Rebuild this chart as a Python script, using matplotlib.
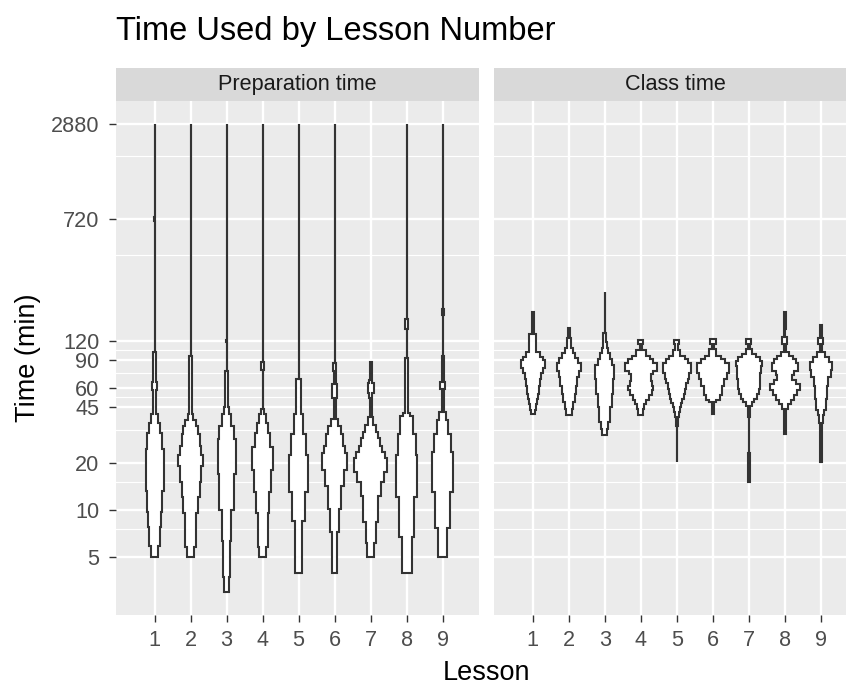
import matplotlib.pyplot as plt
from matplotlib.ticker import FixedLocator, NullFormatter
import numpy as np

plt.rcParams['font.family'] = ['Liberation Sans', 'DejaVu Sans']

# ---- data ----
lessons = [1, 2, 3, 4, 5, 6, 7, 8, 9]
panel_names = ['Preparation time', 'Class time']
y_breaks = [5, 10, 20, 45, 60, 90, 120, 720, 2880]
y_minor = [7.5, 15, 32.5, 52.5, 75, 105, 420, 1800]

# violin outlines: edges in minutes, half-widths (lesson units) between edges
prep_edges = [
    [5.0, 5.9, 7.8, 9.7, 13.1, 24.4, 31, 36, 41, 43, 58, 65, 101, 700, 740, 2880],
    [5.0, 5.8, 9.6, 12.0, 15.0, 19.1, 22.2, 25.6, 30.5, 34.4, 37.2, 40.8, 96, 2880],
    [3.0, 3.7, 6.3, 9.9, 16.9, 28.3, 34.4, 40.8, 45.5, 77, 118, 122, 2880],
    [5.0, 5.8, 9.6, 13, 18, 25, 31, 36, 41, 44, 78, 88, 2880],
    [3.95, 8.5, 13, 22.2, 30.5, 40.8, 68, 2880],
    [3.95, 7.2, 10.1, 14.2, 18, 23, 25.6, 30.5, 34.4, 38, 52, 63, 77, 87, 2880],
    [5.0, 6.1, 8.3, 12.3, 15, 17.3, 21.5, 23.3, 25.6, 28.5, 31.2, 35, 39, 52, 56, 64, 67, 88],
    [3.95, 6.7, 12, 22.2, 30.5, 39.9, 41.5, 92.6, 142, 166, 2880],
    [5.0, 7.7, 13, 23.3, 30.5, 37.2, 41.9, 59, 65, 96, 175, 190, 2880],
]
prep_widths = [
    [0.09, 0.14, 0.17, 0.2, 0.25, 0.2, 0.15, 0.09, 0.05, 0.03, 0.075, 0.03, 0, 0.025, 0],
    [0.09, 0.14, 0.2, 0.25, 0.3, 0.34, 0.3, 0.25, 0.2, 0.14, 0.08, 0.03, 0],
    [0.075, 0.09, 0.12, 0.2, 0.25, 0.2, 0.12, 0.07, 0.03, 0, 0.02, 0],
    [0.1, 0.14, 0.18, 0.23, 0.28, 0.2, 0.15, 0.1, 0.05, 0, 0.035, 0],
    [0.1, 0.17, 0.26, 0.22, 0.12, 0.07, 0],
    [0.075, 0.13, 0.19, 0.27, 0.35, 0.3, 0.24, 0.17, 0.1, 0.03, 0.06, 0.03, 0.05, 0],
    [0.09, 0.14, 0.2, 0.28, 0.37, 0.45, 0.4, 0.33, 0.27, 0.21, 0.15, 0.08, 0.03, 0.05, 0.085, 0.04, 0.03],
    [0.14, 0.21, 0.3, 0.25, 0.18, 0.1, 0.035, 0, 0.04, 0],
    [0.13, 0.2, 0.3, 0.24, 0.15, 0.09, 0.03, 0.075, 0.03, 0, 0.03, 0],
]
class_edges = [
    [41, 43.5, 47, 51, 55, 62, 68, 75, 80, 90, 95, 101, 132, 182],
    [40.5, 44, 49, 55, 62, 70, 77, 87, 93, 100, 108, 114, 124, 130, 145],
    [30.2, 33, 36.4, 45, 55, 68, 84, 92, 100, 108, 118, 134, 245],
    [40.5, 44, 47, 50, 54, 58, 62, 66, 73, 77, 86, 91, 96, 104, 114, 122],
    [20.3, 34, 39.3, 42, 45, 48, 51, 55, 59, 64, 68, 75, 86, 91, 96, 104, 114, 122],
    [40.9, 49, 50.5, 54, 62, 68, 75, 86, 91, 96, 106, 114, 123],
    [15, 23, 39.3, 46, 49, 51, 55, 59, 68, 75, 83, 89, 95, 99, 106, 115, 123],
    [30.5, 44, 47, 50, 54, 58, 63, 67, 72, 77, 86, 91, 96, 102, 114, 126, 142, 182],
    [20.3, 36, 40, 43, 51, 62, 70, 78, 88, 95, 102, 114, 125, 150],
]
class_widths = [
    [0.05, 0.08, 0.11, 0.14, 0.17, 0.2, 0.23, 0.28, 0.33, 0.28, 0.2, 0.1, 0.035],
    [0.09, 0.12, 0.16, 0.2, 0.24, 0.28, 0.33, 0.26, 0.18, 0.12, 0.06, 0.05, 0.035, 0.025],
    [0.07, 0.1, 0.15, 0.2, 0.24, 0.26, 0.2, 0.14, 0.09, 0.06, 0.04, 0],
    [0.07, 0.1, 0.15, 0.22, 0.3, 0.35, 0.3, 0.27, 0.33, 0.44, 0.35, 0.25, 0.13, 0.03, 0.07],
    [0, 0.03, 0.05, 0.08, 0.11, 0.15, 0.19, 0.22, 0.26, 0.3, 0.34, 0.38, 0.3, 0.22, 0.1, 0.04, 0.07],
    [0.03, 0.1, 0.2, 0.25, 0.32, 0.38, 0.44, 0.33, 0.23, 0.1, 0.035, 0.08],
    [0.03, 0, 0.03, 0.08, 0.15, 0.22, 0.27, 0.3, 0.32, 0.34, 0.36, 0.3, 0.2, 0.09, 0.035, 0.07],
    [0.03, 0.08, 0.16, 0.25, 0.33, 0.41, 0.3, 0.21, 0.25, 0.35, 0.3, 0.22, 0.1, 0.03, 0.07, 0.015, 0.03],
    [0.03, 0.05, 0.09, 0.13, 0.17, 0.2, 0.27, 0.3, 0.22, 0.1, 0.03, 0.07, 0.03],
]

W, H = 846, 691
fig = plt.figure(figsize=(W / 100, H / 100), dpi=100)


def px_axes(x0, y0, x1, y1):
    return fig.add_axes([x0 / W, 1 - y1 / H, (x1 - x0) / W, (y1 - y0) / H])


def violin(ax, pos, edges, widths):
    ys, ws = [], []
    for i, w in enumerate(widths):
        ys += [edges[i], edges[i + 1]]
        ws += [w, w]
    ys = np.array(ys)
    ws = np.array(ws)
    px = np.concatenate([pos + ws, (pos - ws)[::-1]])
    py = np.concatenate([ys, ys[::-1]])
    ax.fill(px, py, facecolor='white', edgecolor='#333333', lw=1.5,
            joinstyle='miter', zorder=3)


panel_x = [(115.7, 479.0), (494.0, 857.3)]
all_edges = [prep_edges, class_edges]
all_widths = [prep_widths, class_widths]

for k in range(2):
    x0, x1 = panel_x[k]
    ax = px_axes(x0, 101, x1, 615)
    ax.set_facecolor('#EBEBEB')
    for s in ax.spines.values():
        s.set_visible(False)
    ax.set_yscale('log')
    ax.set_ylim(2.13, 4060)
    ax.set_xlim(-0.078, 10.01)
    ax.set_axisbelow(True)

    ax.xaxis.set_major_locator(FixedLocator(lessons))
    ax.set_xticklabels([str(l) for l in lessons])
    ax.xaxis.set_minor_locator(FixedLocator([]))
    ax.yaxis.set_major_locator(FixedLocator(y_breaks))
    ax.yaxis.set_minor_locator(FixedLocator(y_minor))
    ax.yaxis.set_minor_formatter(NullFormatter())
    ax.set_yticklabels([str(b) for b in y_breaks])

    ax.grid(which='major', color='white', lw=1.7)
    ax.grid(which='minor', axis='y', color='white', lw=0.85)
    ax.tick_params(which='major', length=4.9, width=1.0, color='#333333',
                   labelcolor='#4D4D4D', labelsize=15.6)
    ax.tick_params(axis='x', pad=6)
    ax.tick_params(axis='y', pad=7)
    ax.tick_params(which='minor', length=0)
    if k == 1:
        ax.tick_params(axis='y', length=0, labelleft=False)

    for i, l in enumerate(lessons):
        violin(ax, l, all_edges[k][i], all_widths[k][i])

    strip = px_axes(x0, 67.5, x1, 101)
    strip.set_facecolor('#D9D9D9')
    strip.set_xticks([])
    strip.set_yticks([])
    for s in strip.spines.values():
        s.set_visible(False)
    strip.text(0.5, 0.5, panel_names[k], ha='center', va='center',
               fontsize=15.6, color='#1A1A1A', transform=strip.transAxes)

fig.text(116 / W, 1 - 40 / H, 'Time Used by Lesson Number', fontsize=23.5,
         va='baseline', ha='left', color='black')
fig.text(28 / W, 1 - 358 / H, 'Time (min)', rotation=90, fontsize=19.5,
         va='center', ha='center', color='black')
fig.text(486 / W, 1 - 673 / H, 'Lesson', fontsize=19.5,
         va='center', ha='center', color='black')

fig.savefig('out.png', dpi=100)
